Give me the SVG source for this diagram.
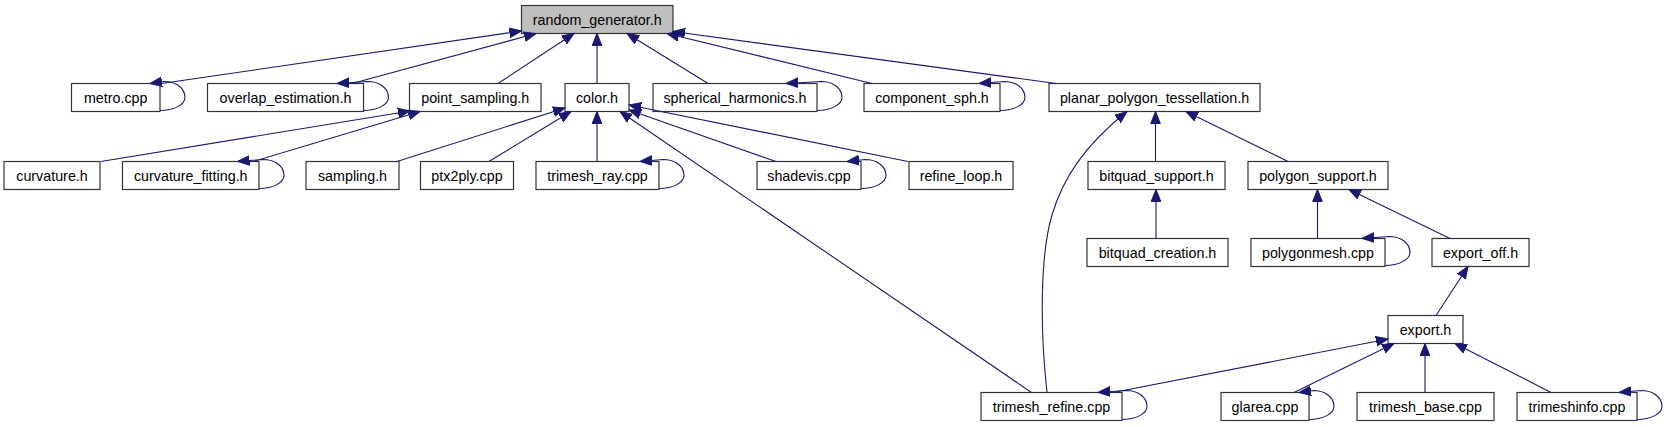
<svg xmlns="http://www.w3.org/2000/svg" width="1667" height="427" viewBox="0 0 1667 427">
<style>
.n rect{fill:#fff;stroke:#333;stroke-width:1.2}
.n.root rect{fill:#bfbfbf}
.n text{font-family:"Liberation Sans",Arial,sans-serif;font-size:14.3px;fill:#000;text-anchor:middle}
.e path{fill:none;stroke:#191970;stroke-width:1.1;marker-end:url(#a)}
</style>
<defs>
<marker id="a" markerUnits="userSpaceOnUse" markerWidth="14" markerHeight="12" viewBox="0 -6 14 12" refX="12" refY="0" orient="auto">
<path d="M0,-4.8L12,0L0,4.8z" fill="#191970" stroke="#191970" stroke-width="1"/>
</marker>
</defs>
<rect width="1667" height="427" fill="#fff"/>
<g id="random_generator_h" class="n root"><rect x="521.5" y="5.5" width="151.5" height="28"/><text x="597.25" y="24.5">random_generator.h</text></g>
<g id="metro_cpp" class="n"><rect x="71.5" y="83.5" width="88.5" height="28"/><text x="115.75" y="102.5">metro.cpp</text></g>
<g id="overlap_estimation_h" class="n"><rect x="207.5" y="83.5" width="156" height="28"/><text x="285.5" y="102.5">overlap_estimation.h</text></g>
<g id="point_sampling_h" class="n"><rect x="409.5" y="83.5" width="131.5" height="28"/><text x="475.25" y="102.5">point_sampling.h</text></g>
<g id="color_h" class="n"><rect x="565" y="83.5" width="64" height="28"/><text x="597" y="102.5">color.h</text></g>
<g id="spherical_harmonics_h" class="n"><rect x="653" y="83.5" width="164" height="28"/><text x="735" y="102.5">spherical_harmonics.h</text></g>
<g id="component_sph_h" class="n"><rect x="864" y="83.5" width="136" height="28"/><text x="932" y="102.5">component_sph.h</text></g>
<g id="planar_polygon_tessellation_h" class="n"><rect x="1049" y="83.5" width="211" height="28"/><text x="1154.5" y="102.5">planar_polygon_tessellation.h</text></g>
<g id="curvature_h" class="n"><rect x="4" y="161.5" width="96" height="28"/><text x="52" y="180.5">curvature.h</text></g>
<g id="curvature_fitting_h" class="n"><rect x="122.5" y="161.5" width="136.5" height="28"/><text x="190.75" y="180.5">curvature_fitting.h</text></g>
<g id="sampling_h" class="n"><rect x="306" y="161.5" width="93" height="28"/><text x="352.5" y="180.5">sampling.h</text></g>
<g id="ptx2ply_cpp" class="n"><rect x="420.5" y="161.5" width="93" height="28"/><text x="467" y="180.5">ptx2ply.cpp</text></g>
<g id="trimesh_ray_cpp" class="n"><rect x="536" y="161.5" width="123" height="28"/><text x="597.5" y="180.5">trimesh_ray.cpp</text></g>
<g id="shadevis_cpp" class="n"><rect x="757" y="161.5" width="104" height="28"/><text x="809" y="180.5">shadevis.cpp</text></g>
<g id="refine_loop_h" class="n"><rect x="909" y="161.5" width="104" height="28"/><text x="961" y="180.5">refine_loop.h</text></g>
<g id="bitquad_support_h" class="n"><rect x="1088" y="161.5" width="137" height="28"/><text x="1156.5" y="180.5">bitquad_support.h</text></g>
<g id="polygon_support_h" class="n"><rect x="1248" y="161.5" width="140" height="28"/><text x="1318" y="180.5">polygon_support.h</text></g>
<g id="bitquad_creation_h" class="n"><rect x="1087" y="238.5" width="141" height="28"/><text x="1157.5" y="257.5">bitquad_creation.h</text></g>
<g id="polygonmesh_cpp" class="n"><rect x="1251" y="238.5" width="134" height="28"/><text x="1318" y="257.5">polygonmesh.cpp</text></g>
<g id="export_off_h" class="n"><rect x="1432" y="238.5" width="97" height="28"/><text x="1480.5" y="257.5">export_off.h</text></g>
<g id="export_h" class="n"><rect x="1388" y="315.5" width="75" height="28"/><text x="1425.5" y="334.5">export.h</text></g>
<g id="trimesh_refine_cpp" class="n"><rect x="981" y="392.5" width="141" height="28"/><text x="1051.5" y="411.5">trimesh_refine.cpp</text></g>
<g id="glarea_cpp" class="n"><rect x="1221" y="392.5" width="88" height="28"/><text x="1265" y="411.5">glarea.cpp</text></g>
<g id="trimesh_base_cpp" class="n"><rect x="1357" y="392.5" width="137" height="28"/><text x="1425.5" y="411.5">trimesh_base.cpp</text></g>
<g id="trimeshinfo_cpp" class="n"><rect x="1517" y="392.5" width="120" height="28"/><text x="1577" y="411.5">trimeshinfo.cpp</text></g>
<g id="connectors" class="e">
<path d="M158,84 L521.5,31"/>
<path d="M352,83.5 L536,33.5"/>
<path d="M498,83.5 L574,33.5"/>
<path d="M597,83.5 L597,33.5"/>
<path d="M708,83.5 L627,33.5"/>
<path d="M872,83.5 L667,33.5"/>
<path d="M1056,83.5 L673,31.5"/>
<path d="M101,161.5 L410,111"/>
<path d="M253,161.5 L420,111.5"/>
<path d="M397,161.5 L565,108"/>
<path d="M489,161.5 L571,111.5"/>
<path d="M597,161.5 L597,111.5"/>
<path d="M1031.5,392.5 L620,111.5"/>
<path d="M776,161.5 L629,110"/>
<path d="M908,161.5 L629,105"/>
<path d="M1047,392.5 C1040,330 1040,255 1052,215 C1063,178 1085,145 1127,111.5"/>
<path d="M1155.5,161.5 L1155.5,111.5"/>
<path d="M1288,161.5 L1186,111.5"/>
<path d="M1156,238.5 L1156,189.5"/>
<path d="M1317.5,238.5 L1317.5,189.5"/>
<path d="M1450,238.5 L1349,189.5"/>
<path d="M1436,315.5 L1468,266.5"/>
<path d="M1113,392.5 L1388,339"/>
<path d="M1294,392.5 L1394,343.5"/>
<path d="M1425,392.5 L1425,343.5"/>
<path d="M1551,392.5 L1455,343.5"/>
<path d="M160,110.5 C174,110.5 185,104.5 185,97.5 C185,88 176,81.5 164,81.5 L150,83.5"/>
<path d="M363.5,110.5 C377.5,110.5 388.5,104.5 388.5,97.5 C388.5,88 379.5,81.5 367.5,81.5 L337,83.5"/>
<path d="M817,110.5 C831,110.5 842,104.5 842,97.5 C842,88 833,81.5 821,81.5 L786,83.5"/>
<path d="M1000,110.5 C1014,110.5 1025,104.5 1025,97.5 C1025,88 1016,81.5 1004,81.5 L979,83.5"/>
<path d="M259,188.5 C273,188.5 284,182.5 284,175.5 C284,166 275,159.5 263,159.5 L237.5,161.5"/>
<path d="M659,188.5 C673,188.5 684,182.5 684,175.5 C684,166 675,159.5 663,159.5 L640,161.5"/>
<path d="M861,188.5 C875,188.5 886,182.5 886,175.5 C886,166 877,159.5 865,159.5 L847,161.5"/>
<path d="M1385,265.5 C1399,265.5 1410,259.5 1410,252.5 C1410,243 1401,236.5 1389,236.5 L1362,238.5"/>
<path d="M1122,419.5 C1136,419.5 1147,413.5 1147,406.5 C1147,397 1138,390.5 1126,390.5 L1098,392.5"/>
<path d="M1309,419.5 C1323,419.5 1334,413.5 1334,406.5 C1334,397 1325,390.5 1313,390.5 L1299,392.5"/>
<path d="M1637,419.5 C1651,419.5 1662,413.5 1662,406.5 C1662,397 1653,390.5 1641,390.5 L1619,392.5"/>
</g>
</svg>
